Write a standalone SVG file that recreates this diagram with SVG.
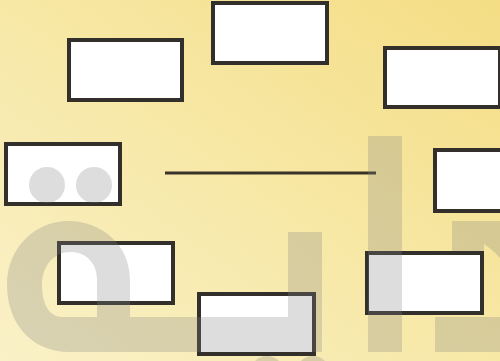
<svg xmlns="http://www.w3.org/2000/svg" width="500" height="361" viewBox="0 0 500 361">
  <defs>
    <linearGradient id="bg" x1="0" y1="1" x2="1" y2="0">
      <stop offset="0" stop-color="#faf1c8"/>
      <stop offset="0.5" stop-color="#f7e8a6"/>
      <stop offset="1" stop-color="#f4dd84"/>
    </linearGradient>
  </defs>
  <style>
    .box { fill: #ffffff; stroke: #33302b; stroke-width: 4; }
    .conn { stroke: #3a3328; stroke-width: 3; fill: none; }
    .wm { fill: #808080; fill-opacity: 0.27; }
  </style>
  <rect x="0" y="0" width="500" height="361" fill="url(#bg)"/>

  <g id="connectors">
    <line class="conn" x1="165" y1="173" x2="376" y2="173"/>
  </g>

  <g id="node1"><rect class="box" x="69" y="40" width="113" height="60"/></g>
  <g id="node2"><rect class="box" x="213" y="3" width="114" height="60"/></g>
  <g id="node3"><rect class="box" x="385" y="48" width="115" height="59"/></g>
  <g id="node4"><rect class="box" x="6" y="144" width="114" height="60"/></g>
  <g id="node5"><rect class="box" x="435" y="150" width="80" height="61"/></g>
  <g id="node6"><rect class="box" x="59" y="243" width="114" height="60"/></g>
  <g id="node7"><rect class="box" x="199" y="294" width="115" height="60"/></g>
  <g id="node8"><rect class="box" x="367" y="253" width="115" height="60"/></g>

  <g id="watermark" class="wm">
    <circle cx="47" cy="185" r="18"/>
    <circle cx="94" cy="185" r="18"/>
    <path fill-rule="evenodd" d="M 322,232 L 322,352 L 70,352 C 30,352 7,322 7,285 C 7,248 35,221 68,221 C 102,221 130,245 130,280 L 130,317 L 288,317 L 288,232 Z M 42,285 C 42,265 55,252 70,252 C 85,252 97,262 97,280 L 97,317 L 62,317 C 50,317 42,305 42,285 Z"/>
    <rect x="368" y="136" width="34" height="216"/>
    <path d="M 452,221 L 500,221 L 500,258 C 494,251 488,247 484,244 L 484,251 L 452,251 Z"/>
    <rect x="435" y="317" width="65" height="35"/>
    <circle cx="267" cy="373" r="17"/>
    <circle cx="313" cy="373" r="17"/>
  </g>
</svg>
